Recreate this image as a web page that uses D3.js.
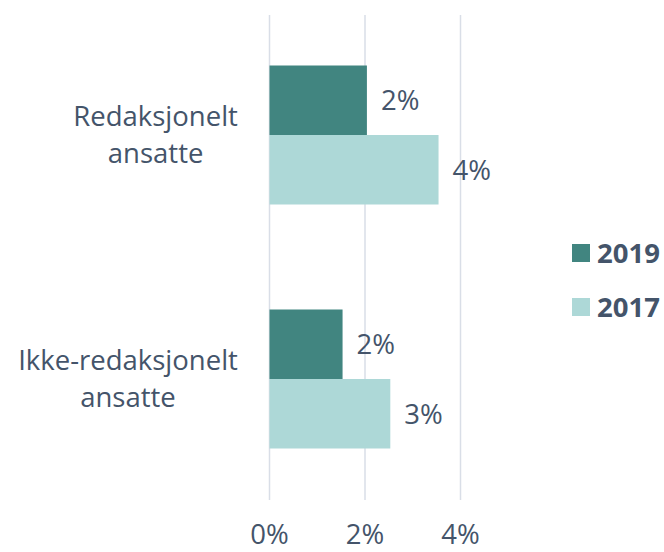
<!DOCTYPE html>
<html>
<head>
<meta charset="utf-8">
<script src="https://cdn.jsdelivr.net/npm/d3@7"></script>
<style>
  body { margin: 0; background: #fff; }
  svg { display: block; }
  text { font-family: "Open Sans", Lato, sans-serif; fill: #44546A; }
</style>
</head>
<body>
<svg id="chart" width="664" height="552"></svg>
<script>
const categories = [["Redaksjonelt", "ansatte"], ["Ikke-redaksjonelt", "ansatte"]];
const categoryKeys = ["Redaksjonelt ansatte", "Ikke-redaksjonelt ansatte"];
const seriesNames = ["2019", "2017"];
const values2019 = [2.04, 1.53];
const values2017 = [3.54, 2.53];
const xTicks = [0, 2, 4];
const colors = ["#418580", "#ADD8D7"];

const FS = 27.5;
const svg = d3.select("#chart");
const x = d3.scaleLinear().domain([0, 4]).range([269.5, 460.5]);
const y = d3.scaleBand().domain(categoryKeys).range([13, 501]);
const inner = d3.scaleBand().domain(seriesNames).range([0, 139]);
const innerOffset = (y.bandwidth() - 139) / 2;

// gridlines
svg.append("g").selectAll("line").data(xTicks).join("line")
  .attr("x1", d => x(d)).attr("x2", d => x(d))
  .attr("y1", 15).attr("y2", 500)
  .attr("stroke", "#D9DEE7").attr("stroke-width", 1.5);

const seriesData = [values2019, values2017];
const groups = svg.append("g").selectAll("g").data(categoryKeys).join("g")
  .attr("transform", d => `translate(0,${y(d) + innerOffset})`);

groups.each(function(cat, ci) {
  const g = d3.select(this);
  seriesNames.forEach((s, si) => {
    const v = seriesData[si][ci];
    g.append("rect")
      .attr("x", x(0)).attr("y", inner(s))
      .attr("width", x(v) - x(0)).attr("height", inner.bandwidth())
      .attr("fill", colors[si]);
    g.append("text")
      .attr("x", x(v) + 14).attr("y", inner(s) + inner.bandwidth() / 2)
      .attr("dy", "0.36em")
      .attr("font-size", FS)
      .text(Math.round(v) + "%");
  });
});

// category labels
categoryKeys.forEach((k, ci) => {
  const lines = categories[ci];
  const cy = y(k) + y.bandwidth() / 2;
  const t = svg.append("text").attr("font-size", FS).attr("text-anchor", "middle");
  lines.forEach((ln, li) => {
    t.append("tspan").attr("x", 0).attr("y", cy + (li - (lines.length - 1) / 2) * 37).attr("dy", "0.36em").text(ln);
  });
  const bb = t.node().getBBox();
  t.selectAll("tspan").attr("x", 238 - bb.width / 2);
});

// x axis labels
svg.append("g").selectAll("text").data(xTicks).join("text")
  .attr("x", d => x(d)).attr("y", 544)
  .attr("text-anchor", "middle").attr("font-size", FS)
  .text(d => d + "%");

// legend
const legend = svg.append("g").selectAll("g").data(seriesNames).join("g")
  .attr("transform", (d, i) => `translate(572,${244 + i * 54})`);
legend.append("rect").attr("width", 18).attr("height", 18).attr("fill", (d, i) => colors[i]);
legend.append("text").attr("x", 25).attr("y", 9).attr("dy", "0.36em")
  .attr("font-size", FS).attr("font-weight", "bold").text(d => d);
</script>
</body>
</html>
